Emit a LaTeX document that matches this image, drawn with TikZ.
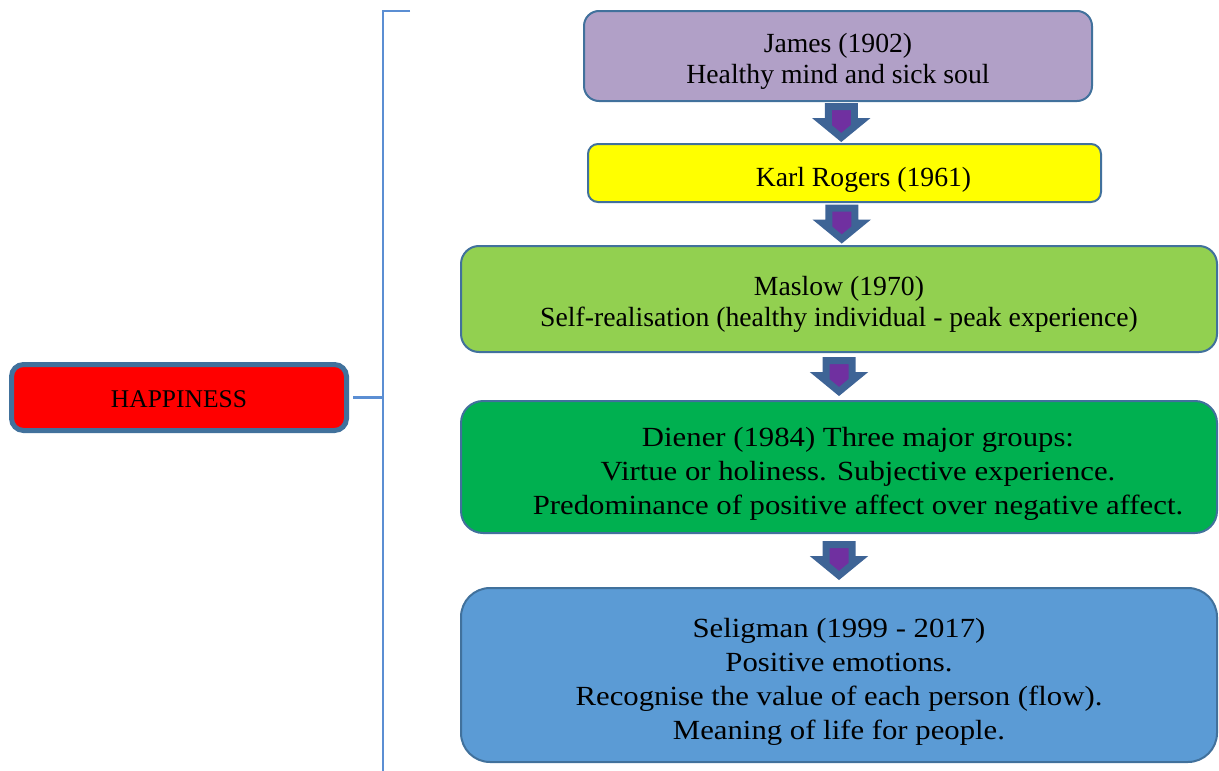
\documentclass[tikz,border=0pt]{standalone}
\usepackage{fontspec}
\setmainfont{Liberation Serif}
\newfontfamily\widefont[FakeStretch=1.11]{Liberation Serif}
\usetikzlibrary{calc}

\definecolor{boxline}{HTML}{41719C}
\definecolor{arrowline}{HTML}{3E6496}
\definecolor{arrowfill}{HTML}{7030A0}
\definecolor{bracketline}{HTML}{5B8ED3}
\definecolor{jamesfill}{HTML}{B1A0C7}
\definecolor{rogersfill}{HTML}{FFFF00}
\definecolor{maslowfill}{HTML}{92D050}
\definecolor{dienerfill}{HTML}{00B050}
\definecolor{seligfill}{HTML}{5B9BD5}

% taller first line so the text sits a little low in its box
\newcommand\lowstrut{\rule{0pt}{33pt}}
% text that stands a bit right of the box centre
\newcommand\pushright{\hspace*{38pt}}

\tikzstyle{stage}=[rectangle, draw=boxline, line width=2pt, align=center, inner sep=0pt, font=\fontsize{27.7}{34}\selectfont]
\tikzstyle{tightstage}=[stage, font=\fontsize{27.7}{31}\selectfont]
\tikzstyle{widestage}=[stage, font=\widefont\fontsize{27.7}{34}\selectfont]
\tikzstyle{root}=[rectangle, draw=boxline, fill=red, line width=5pt, rounded corners=12pt, inner sep=0pt, font=\fontsize{25.5}{30}\selectfont]
\tikzstyle{bracket}=[draw=bracketline, line width=2.5pt]

\tikzset{downarrow/.pic={
    \filldraw[draw=arrowline, fill=arrowfill, line width=7pt, miter limit=4]
        (-13,-16) -- (13,-16) -- (13,-1) -- (19.5,-1) -- (0,15) -- (-19.5,-1) -- (-13,-1) -- cycle;
}}

\begin{document}
\begin{tikzpicture}[x=1pt, y=-1pt]
    \useasboundingbox (0,0) rectangle (1219,771);

    \node[root, minimum width=335pt, minimum height=66pt] (happy) at (179,397.5) {\rule{0pt}{21pt}HAPPINESS};

    \node[tightstage, fill=jamesfill, rounded corners=15pt, minimum width=508pt, minimum height=90pt] (james) at (838,56) {\rule{0pt}{30pt}James (1902)\\Healthy mind and sick soul};
    \node[stage, fill=rogersfill, rounded corners=10pt, minimum width=513pt, minimum height=58pt] (rogers) at (844.5,173) {\lowstrut\pushright Karl Rogers (1961)};
    \node[tightstage, fill=maslowfill, rounded corners=18pt, minimum width=756pt, minimum height=106pt] (maslow) at (839,299) {\rule{0pt}{30pt}Maslow (1970)\\Self-realisation (healthy individual - peak experience)};
    \node[widestage, fill=dienerfill, rounded corners=22pt, minimum width=756pt, minimum height=132pt] (diener) at (839,467) {\lowstrut\pushright Diener (1984) Three major groups:\\\pushright Virtue or holiness. Subjective experience.\\\pushright Predominance of positive affect over negative affect.};
    \node[widestage, fill=seligfill, rounded corners=29pt, minimum width=756pt, minimum height=174pt] (selig) at (839,675) {\lowstrut Seligman (1999 - 2017)\\Positive emotions.\\Recognise the value of each person (flow).\\Meaning of life for people.};

    % bracket joining the root to the stages
    \coordinate (btop) at (410,11);
    \coordinate (bmid) at (383,397.5);
    \coordinate (bbot) at (383,771);
    \draw[bracket] ([xshift=4pt]happy.east) -- (bmid);
    \draw[bracket] (btop) -| (bbot);

    \foreach \src/\dst in {james/rogers, rogers/maslow, maslow/diener, diener/selig}
        \pic at ($(\src.south)!0.5!(\dst.north)$) {downarrow};
\end{tikzpicture}
\end{document}
